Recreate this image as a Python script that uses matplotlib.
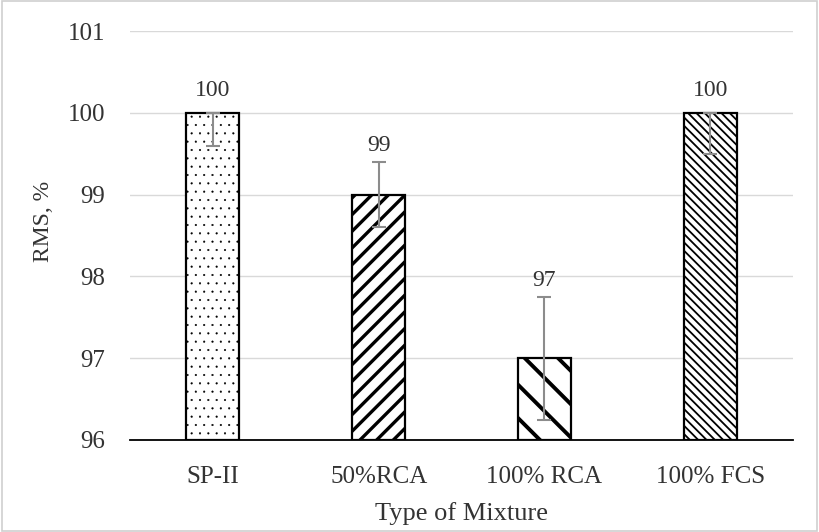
import matplotlib
matplotlib.use("Agg")
import matplotlib.pyplot as plt
import numpy as np

# data
mixtures = ["SP-II", "50%RCA", "100% RCA", "100% FCS"]
rms = [100, 99, 97, 100]
err_low = [0.4, 0.4, 0.75, 0.5]
err_high = [0.0, 0.4, 0.75, 0.0]
hatches = ["..", "//", "\\", "\\\\\\\\"]
hatch_lw = [0.3, 2.4, 2.8, 1.3]

plt.rcParams["font.family"] = ["Liberation Serif", "DejaVu Serif"]

fig = plt.figure(figsize=(8.19, 5.32), dpi=100)
ax = fig.add_axes([130 / 819, 1 - 440 / 532, (793 - 130) / 819, (440 - 31) / 532])

x = np.arange(len(mixtures))
for i in range(len(mixtures)):
    b = ax.bar(x[i], rms[i] - 96, bottom=96, width=0.32, color="white",
               edgecolor="black", linewidth=1.6, hatch=hatches[i], zorder=2)
    for p in b.patches:
        if hasattr(p, "set_hatch_linewidth"):
            p.set_hatch_linewidth(hatch_lw[i])
        if i == 0 and hasattr(p, "set_hatchcolor"):
            p.set_hatchcolor("#555555")

ax.errorbar(x, rms, yerr=[err_low, err_high], fmt="none", ecolor="#8c8c8c",
            elinewidth=1.5, capsize=5, capthick=1.5, zorder=3)

for i in range(len(mixtures)):
    y_lab = max(rms[i] + err_high[i] + 0.07, rms[i] + 0.14)
    ax.text(x[i], y_lab, str(rms[i]), ha="center",
            va="bottom", fontsize=17, color="#333333")

ax.set_xlim(-0.5, len(mixtures) - 0.5)
ax.set_ylim(96, 101)
ax.set_yticks(range(96, 102))
ax.set_xticks(x)
ax.set_xticklabels(mixtures)
ax.tick_params(axis="both", length=0, labelsize=18, colors="#333333")
ax.tick_params(axis="y", pad=18)
ax.tick_params(axis="x", pad=19)
ax.grid(axis="y", color="#d9d9d9", linewidth=1.0, zorder=0)
ax.set_axisbelow(True)
for s in ["left", "right", "top"]:
    ax.spines[s].set_visible(False)
ax.spines["bottom"].set_color("black")
ax.spines["bottom"].set_linewidth(1.3)

ax.set_ylabel("RMS, %", fontsize=17, color="#333333")
ax.yaxis.set_label_coords(-0.115, 0.535)
ax.set_xlabel("Type of Mixture", fontsize=19, color="#333333", labelpad=10)

# light frame around the figure
fig.patches.append(plt.Rectangle((0.002, 0.002), 0.996, 0.996, transform=fig.transFigure,
                                 fill=False, edgecolor="#cfcfcf", linewidth=1.2))

fig.savefig("out.png", dpi=100)
